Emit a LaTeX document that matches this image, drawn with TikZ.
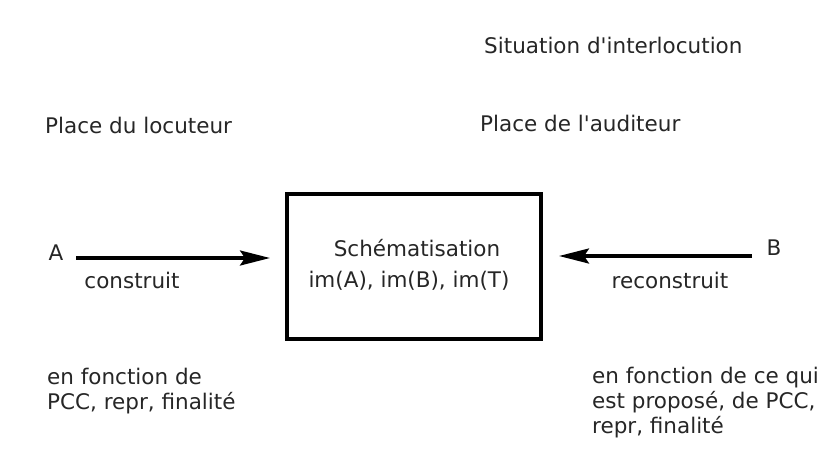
\documentclass[tikz,border=0pt]{standalone}
\usepackage{fontspec}
\setmainfont{DejaVu Sans}
\usetikzlibrary{arrows.meta}
\begin{document}
\begin{tikzpicture}[x=1pt,y=-1pt,
  lbl/.style={font=\fontsize{21.5}{25}\selectfont, inner sep=0pt, text=black!85},
  lblL/.style={lbl, anchor=west, align=left},
  conn/.style={line width=3.4pt, -{Stealth[length=30pt,width=15pt,inset=5pt]}},
  boxst/.style={draw, line width=3.6pt, minimum width=254pt, minimum height=145pt, inner sep=0pt}]
\useasboundingbox (0,0) rectangle (819,448);
\node[lblL] (sit) at (484,45) {Situation d\textquotesingle interlocution};
\node[lblL] (ploc) at (45,125) {Place du locuteur};
\node[lblL] (paud) at (480,123) {Place de l\textquotesingle auditeur};
\node[boxst] (box) at (414,266.5) {};
\node[lbl] (sch) at (417,248) {Schématisation};
\node[lbl] (im) at (409,281) {im(A),\ im(B),\ im(T)};
\node[lbl] (A) at (56,253) {A};
\node[lbl] (B) at (774,248) {B};
\coordinate (a0) at (76,258);
\coordinate (a1) at (270,258);
\coordinate (b0) at (752,256);
\coordinate (b1) at (559,256);
\draw[conn] (a0) -- (a1);
\draw[conn] (b0) -- (b1);
\node[lbl] (con) at (132,280) {construit};
\node[lbl] (rec) at (670,280) {reconstruit};
\node[lblL] (ef1) at (47,391) {en fonction de\\PCC,\ repr,\ finalité};
\node[lblL] (ef2) at (592,403) {en fonction de ce qui\\est proposé, de PCC,\\repr,\ finalité};
\end{tikzpicture}
\end{document}
